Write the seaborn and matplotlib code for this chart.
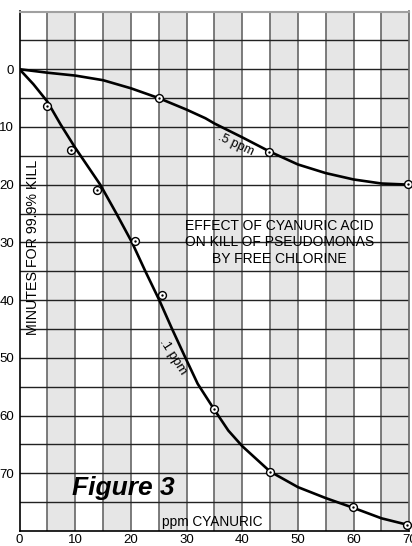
import numpy as np
import pandas as pd
import matplotlib
matplotlib.use("Agg")
import matplotlib.pyplot as plt
import seaborn as sns

# traced curves (ppm cyanuric acid vs minutes for 99.9% kill)
curve_05_x = [0, 5, 10, 15, 20, 25, 30, 33.4, 35, 40, 45, 50, 55, 60, 65, 70]
curve_05_y = [0, 0.6, 1.1, 1.9, 3.3, 5.0, 7.0, 8.5, 9.4, 11.8, 14.3, 16.5, 18.0, 19.1, 19.8, 20.0]

curve_01_x = [0, 2.5, 5, 7.4, 10, 14.5, 17.4, 20.2, 22.6, 25.1, 27.4, 29.8, 32, 35,
              37.5, 40, 45, 50, 55, 60, 65, 70]
curve_01_y = [0, 2.6, 5.6, 9.6, 13.6, 20, 25, 30, 35, 40, 45, 50, 54.5, 59,
              62.6, 65.3, 69.7, 72.4, 74.3, 76, 77.8, 79]

# measured points
pts_05_x = [25, 44.8, 69.7]
pts_05_y = [5.0, 14.4, 19.9]

pts_01_x = [5.0, 9.2, 14.0, 20.7, 25.6, 34.9, 44.9, 59.9, 69.6]
pts_01_y = [6.4, 14.0, 21.0, 29.7, 39.2, 58.9, 69.7, 75.9, 78.9]

x_ticks = [0, 10, 20, 30, 40, 50, 60, 70]
y_ticks = [0, 10, 20, 30, 40, 50, 60, 70]

title_lines = ["EFFECT OF CYANURIC ACID", "ON KILL OF PSEUDOMONAS", "BY FREE CHLORINE"]

sns.set_style("white")
plt.rcParams["font.family"] = ["Liberation Sans", "DejaVu Sans"]
plt.rcParams["text.color"] = "black"
plt.rcParams["xtick.color"] = "black"
plt.rcParams["ytick.color"] = "black"

fig = plt.figure(figsize=(4.12, 5.46), dpi=100)
ax = fig.add_axes([19.5 / 412, 15 / 546, 389.8 / 412, 519.5 / 546])

# alternating shaded columns
for x0 in np.arange(5, 70, 10):
    ax.axvspan(x0, x0 + 5, color="#e6e6e6", lw=0, zorder=0)

ax.set_xlim(0, 70)
ax.set_ylim(80, -10)
ax.set_xticks(x_ticks)
ax.set_xticks(np.arange(5, 70, 10), minor=True)
ax.set_yticks(y_ticks)
ax.set_yticks(np.arange(-5, 80, 10), minor=True)
ax.tick_params(which="both", length=0)
ax.tick_params(axis="y", pad=4, labelsize=9.5, labelcolor="black")
ax.tick_params(axis="x", pad=2.5, labelsize=9.5, labelcolor="black")

for xv in np.arange(5, 70, 5):
    ax.axvline(xv, color="#666666", lw=1.2, zorder=1)
for yv in np.arange(-5, 80, 5):
    ax.axhline(yv, color="#222222", lw=1.0, zorder=1)

for s in ["left", "bottom"]:
    ax.spines[s].set_color("black")
    ax.spines[s].set_linewidth(1.2)
ax.spines["top"].set_color("#a0a0a0")
ax.spines["top"].set_linewidth(1.5)
ax.spines["right"].set_color("#666666")
ax.spines["right"].set_linewidth(1.2)

df05 = pd.DataFrame({"ppm": curve_05_x, "min": curve_05_y})
df01 = pd.DataFrame({"ppm": curve_01_x, "min": curve_01_y})
sns.lineplot(data=df05, x="ppm", y="min", sort=False, estimator=None,
             color="black", lw=1.9, ax=ax, zorder=3)
sns.lineplot(data=df01, x="ppm", y="min", sort=False, estimator=None,
             color="black", lw=1.9, ax=ax, zorder=3)

for px, py in [(pts_05_x, pts_05_y), (pts_01_x, pts_01_y)]:
    sns.scatterplot(x=px, y=py, s=32, marker="o", facecolor="white",
                    edgecolor="black", linewidth=1.0, ax=ax, zorder=4, clip_on=False)
    sns.scatterplot(x=px, y=py, s=3, marker="o", color="black",
                    linewidth=0, ax=ax, zorder=5, clip_on=False)

ax.set_xlabel("")
ax.set_ylabel("")

ax.text(2.4, 30.9, "MINUTES FOR 99.9% KILL", rotation=90, ha="center", va="center",
        fontsize=10.3, zorder=6)
ax.text(46.7, 30.0, "\n".join(title_lines), ha="center", va="center",
        multialignment="center", fontsize=10, linespacing=1.25, zorder=6)
ax.text(38.9, 13.1, ".5 ppm", rotation=-25, ha="center", va="center",
        fontsize=9, zorder=6, rotation_mode="anchor")
ax.text(27.6, 49.8, ".1 ppm", rotation=-57.5, ha="center", va="center",
        fontsize=9.5, zorder=6, rotation_mode="anchor")
ax.text(18.6, 72.5, "Figure 3", ha="center", va="center", fontsize=19,
        fontweight="bold", fontstyle="italic", zorder=6)
ax.text(34.65, 78.5, "ppm CYANURIC", ha="center", va="center", fontsize=9.8, zorder=6)

fig.savefig("out.png", dpi=100)
